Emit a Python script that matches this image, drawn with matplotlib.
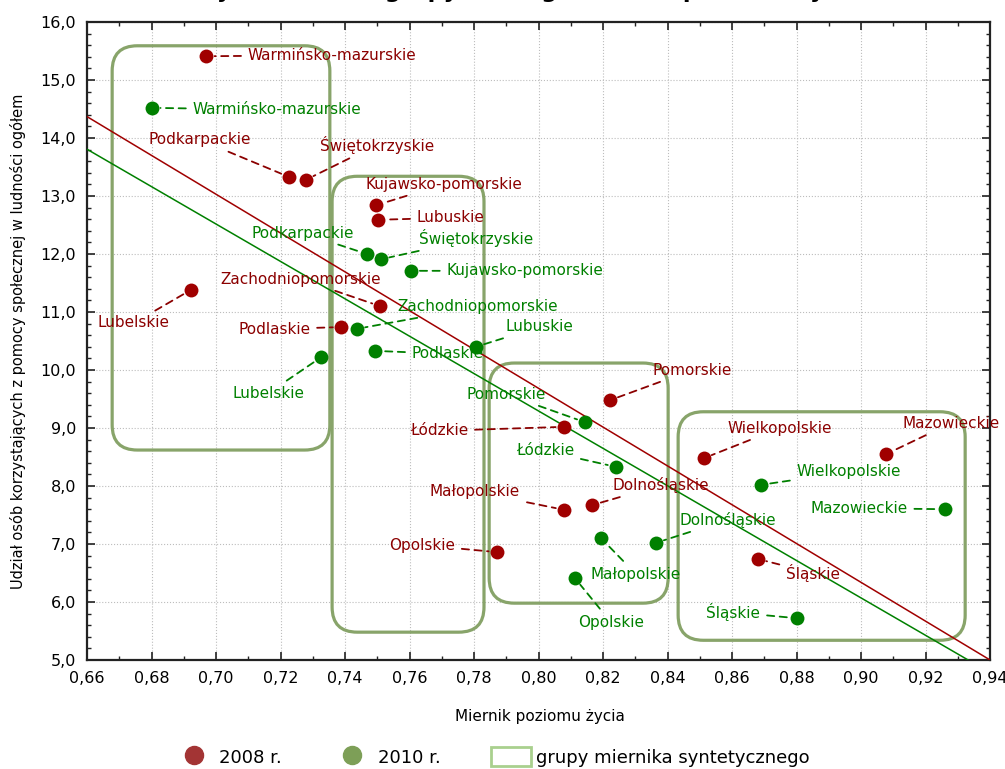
import numpy as np
import matplotlib
matplotlib.use('Agg')
import matplotlib.pyplot as plt
from matplotlib.patches import FancyBboxPatch, Patch
from matplotlib.lines import Line2D

# wojewodztwa, 2008
names_2008 = ['Warmińsko-mazurskie', 'Podkarpackie', 'Świętokrzyskie', 'Kujawsko-pomorskie',
              'Lubuskie', 'Lubelskie', 'Zachodniopomorskie', 'Podlaskie', 'Pomorskie', 'Łódzkie',
              'Małopolskie', 'Dolnośląskie', 'Opolskie', 'Wielkopolskie', 'Mazowieckie', 'Śląskie']
x_2008 = [0.697, 0.7226, 0.7279, 0.7496, 0.7502, 0.6922, 0.7509, 0.7388, 0.8222, 0.8079,
          0.8079, 0.8166, 0.7871, 0.8513, 0.9078, 0.8681]
y_2008 = [15.41, 13.33, 13.28, 12.84, 12.59, 11.38, 11.10, 10.74, 9.48, 9.02,
          7.59, 7.67, 6.86, 8.48, 8.55, 6.74]

# wojewodztwa, 2010
names_2010 = ['Warmińsko-mazurskie', 'Podkarpackie', 'Świętokrzyskie', 'Kujawsko-pomorskie',
              'Zachodniopomorskie', 'Podlaskie', 'Lubelskie', 'Lubuskie', 'Pomorskie', 'Łódzkie',
              'Wielkopolskie', 'Mazowieckie', 'Małopolskie', 'Dolnośląskie', 'Opolskie', 'Śląskie']
x_2010 = [0.6802, 0.7468, 0.7512, 0.7605, 0.7437, 0.7493, 0.7326, 0.7806, 0.8144, 0.824,
          0.869, 0.926, 0.8194, 0.8364, 0.8113, 0.8802]
y_2010 = [14.52, 12.00, 11.91, 11.71, 10.71, 10.33, 10.22, 10.40, 9.10, 8.33,
          8.02, 7.60, 7.10, 7.02, 6.41, 5.72]

# grupy miernika syntetycznego (zakresy ramek)
group_x0 = [0.6678, 0.7360, 0.7847, 0.8433]
group_x1 = [0.7353, 0.7831, 0.8402, 0.9323]
group_y0 = [8.62, 5.48, 5.98, 5.34]
group_y1 = [15.59, 13.34, 10.12, 9.28]

# label offsets in pixels (layout only)
off_2008 = [(126, 1), (-89, 37), (71, 35), (68, 21), (73, 2), (-57, -33), (-79, 27), (-67, -2),
            (82, 30), (-125, -4), (-89, 18), (69, 20), (-75, 7), (76, 30), (65, 31), (55, -14)]
off_2010 = [(125, -2), (-64, 21), (95, 21), (114, 0), (121, 22), (73, -3), (-53, -36), (64, 20),
            (-79, 28), (-71, 16), (88, 13), (-86, 1), (35, -36), (72, 23), (36, -44), (-64, 6)]

RED = '#a00000'
RED_TXT = '#8b0000'
GREEN = '#008000'
BOX = '#88a46a'

plt.rcParams['font.family'] = ['DejaVu Sans']

fig = plt.figure(figsize=(10.05, 7.69), dpi=100)
ax = fig.add_axes([87/1005, 1-660/769, 903/1005, 638/769])
xmin, xmax, ymin, ymax = 0.66, 0.94, 5.0, 16.0
ax.set_xlim(xmin, xmax)
ax.set_ylim(ymin, ymax)

# group frames, rounded in screen space
aspect = ((ymax-ymin)/638) / ((xmax-xmin)/903)
for gx0, gx1, gy0, gy1 in zip(group_x0, group_x1, group_y0, group_y1):
    p = FancyBboxPatch((gx0, gy0), gx1-gx0, gy1-gy0,
                       boxstyle='round,pad=0,rounding_size=0.0078',
                       mutation_aspect=aspect, fc='none', ec=BOX, lw=2.3, zorder=2)
    ax.add_patch(p)

# regression lines
xx = np.array([xmin, xmax])
for xs, ys, c in [(x_2008, y_2008, RED), (x_2010, y_2010, GREEN)]:
    k, b = np.polyfit(xs, ys, 1)
    ax.plot(xx, k*xx+b, color=c, lw=1.1, zorder=3)

ax.scatter(x_2008, y_2008, s=100, color=RED, zorder=5, linewidths=0)
ax.scatter(x_2010, y_2010, s=100, color=GREEN, zorder=5, linewidths=0)

def labels(names, xs, ys, offs, col):
    for n, x, y, o in zip(names, xs, ys, offs):
        ax.annotate(n, (x, y), xytext=o, textcoords='offset pixels',
                    ha='center', va='center', fontsize=11, color=col, zorder=6,
                    annotation_clip=False,
                    arrowprops=dict(arrowstyle='-', color=col, lw=1.3,
                                    ls=(0, (4, 3)), shrinkA=3, shrinkB=6))

labels(names_2008, x_2008, y_2008, off_2008, RED_TXT)
labels(names_2010, x_2010, y_2010, off_2010, GREEN)

ax.set_xticks(np.arange(0.66, 0.9401, 0.02))
ax.set_xticklabels([('%.2f' % v).replace('.', ',') for v in np.arange(0.66, 0.9401, 0.02)])
ax.set_xticks(np.arange(0.67, 0.94, 0.02), minor=True)
ax.set_yticks(np.arange(5, 16.01, 1))
ax.set_yticklabels([('%.1f' % v).replace('.', ',') for v in np.arange(5, 16.01, 1)])
ax.set_yticks(np.arange(5, 16.01, 0.2), minor=True)
ax.tick_params(which='both', direction='in', top=True, right=True, labelsize=11.5, color='#222222')
ax.tick_params(which='major', length=6, width=1.2, pad=8)
ax.tick_params(which='minor', length=3, width=1)
ax.grid(True, which='major', ls=':', color='#bdbdbd', lw=0.8)
for s in ax.spines.values():
    s.set_linewidth(1.6)
    s.set_color('#222222')

fig.text(540/1005, 1-717/769, 'Miernik poziomu życia', ha='center', va='center', fontsize=11)
fig.text(18/1005, 1-341/769, 'Udział osób korzystających z pomocy społecznej w ludności ogółem',
         ha='center', va='center', rotation=90, fontsize=10.5)
# title is cut off at the top edge in the reference: only descenders show
fig.text(0.47, 1-2/769, 'Podział województw na grupy według miernika poziomu życia',
         ha='center', va='bottom', fontsize=16, fontweight='bold')

handles = [Line2D([], [], marker='o', ls='none', ms=13, color='#a33434'),
           Line2D([], [], marker='o', ls='none', ms=13, color='#7d9f57'),
           Patch(fc='white', ec='#a9d08e', lw=2)]
fig.legend(handles, ['2008 r.', '2010 r.', 'grupy miernika syntetycznego'],
           loc='center', bbox_to_anchor=(492/1005, 1-757/769), ncol=3, frameon=False,
           fontsize=13, handlelength=2.2, handleheight=1.2, columnspacing=2.8, handletextpad=0.3)

fig.savefig('out.png', dpi=100)
